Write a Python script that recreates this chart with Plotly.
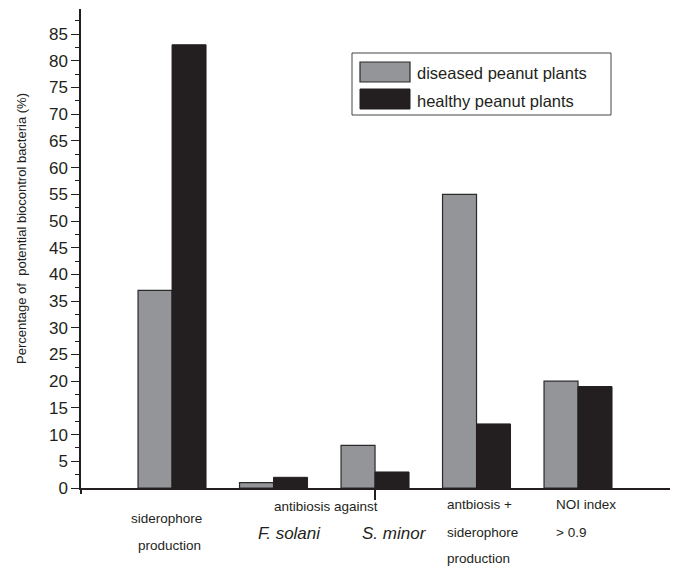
import plotly.graph_objects as go

# ---- data ----
categories = [0, 1, 2, 3, 4]  # siderophore, F. solani, S. minor, antibiosis+siderophore, NOI
diseased = [37, 1, 8, 55, 20]
healthy = [83, 2, 3, 12, 19]
series_names = ["diseased peanut plants", "healthy peanut plants"]
y_ticks = list(range(0, 90, 5))

# page body has an 8px default margin, so the figure is drawn 8px in
OFF = 8
W, H = 678 - OFF, 566 - OFF
PW, PH = 590, 479
L, T = 81 - OFF, 9 - OFF
R = W - L - PW
B = H - T - PH

def px(x):
    return (x - 81) / PW

def py(y):
    return (488 - y) / PH

GRAY = "#939598"
DARK = "#231f20"
FONT = "Liberation Sans, Arial, Helvetica, sans-serif"

fig = go.Figure()
fig.add_trace(go.Bar(x=categories, y=diseased, name=series_names[0],
                     marker=dict(color=GRAY, line=dict(color="#2a2a2a", width=1.2)),
                     showlegend=False))
fig.add_trace(go.Bar(x=categories, y=healthy, name=series_names[1],
                     marker=dict(color=DARK, line=dict(color=DARK, width=1)),
                     showlegend=False))

fig.update_layout(
    width=W, height=H,
    margin=dict(l=L, r=R, t=T, b=B, pad=0),
    paper_bgcolor="white", plot_bgcolor="white",
    barmode="group", bargap=0.33, bargroupgap=0,
    font=dict(family=FONT, color=DARK),
    xaxis=dict(range=[-0.897, 4.916], showgrid=False, zeroline=False,
               showline=True, linecolor=DARK, linewidth=1.5,
               tickmode="array", tickvals=[2], showticklabels=False,
               ticks="outside", ticklen=10, tickwidth=1.5, tickcolor=DARK,
               minor=dict(tickmode="array", tickvals=[-0.893, 4.912], ticks="outside",
                          ticklen=4, tickwidth=1.5, tickcolor=DARK)),
    yaxis=dict(range=[0, 89.7], showgrid=False, zeroline=False,
               showline=True, linecolor=DARK, linewidth=1.5,
               tickmode="array", tickvals=y_ticks,
               ticks="outside", ticklen=8, tickwidth=1.2, tickcolor=DARK,
               tickfont=dict(size=17, color=DARK, family=FONT),
               minor=dict(dtick=2.5, ticks="outside", ticklen=4, tickwidth=1.2,
                          tickcolor=DARK)),
)

shapes = []
annotations = []
# legend box
shapes.append(dict(type="rect", xref="paper", yref="paper",
                   x0=px(352), x1=px(611), y0=py(115), y1=py(53),
                   line=dict(color="#444", width=1), fillcolor="white"))
shapes.append(dict(type="rect", xref="paper", yref="paper",
                   x0=px(360), x1=px(410), y0=py(82), y1=py(62),
                   line=dict(color="#2a2a2a", width=1.2), fillcolor=GRAY))
shapes.append(dict(type="rect", xref="paper", yref="paper",
                   x0=px(360), x1=px(410), y0=py(109), y1=py(89),
                   line=dict(color=DARK, width=1), fillcolor=DARK))
for name, yc in zip(series_names, [73, 101]):
    annotations.append(dict(text=name, xref="paper", yref="paper",
                            x=px(415), y=py(yc), xanchor="left", yanchor="middle",
                            showarrow=False, font=dict(size=16.5, color=DARK)))

# y-axis title
annotations.append(dict(text="Percentage of  potential biocontrol bacteria (%)",
                        xref="paper", yref="paper", x=px(21), y=py(229),
                        xanchor="center", yanchor="middle", textangle=-90,
                        showarrow=False, font=dict(size=13, color=DARK)))

# x-axis category labels
labels = [
    ("antibiosis against", 326, 507, "center", False, 13.5),
    ("siderophore", 166, 518, "center", False, 13.5),
    ("production", 169, 545, "center", False, 13.5),
    ("F. solani", 289, 533, "center", True, 17),
    ("S. minor", 394, 533, "center", True, 17),
    ("antbiosis +", 445, 505, "left", False, 13.5),
    ("siderophore", 445, 532, "left", False, 13.5),
    ("production", 445, 558, "left", False, 13.5),
    ("NOI index", 554, 505, "left", False, 13.5),
    ("> 0.9", 554, 532, "left", False, 13.5),
]
for txt, x, y, anc, it, sz in labels:
    t = "<i>%s</i>" % txt if it else txt
    annotations.append(dict(text=t.replace(">", "&gt;") if txt.startswith(">") else t,
                            xref="paper", yref="paper", x=px(x), y=py(y),
                            xanchor=anc, yanchor="middle", showarrow=False,
                            font=dict(size=sz, color=DARK)))

fig.update_layout(shapes=shapes, annotations=annotations)
fig.write_html("out.html")
